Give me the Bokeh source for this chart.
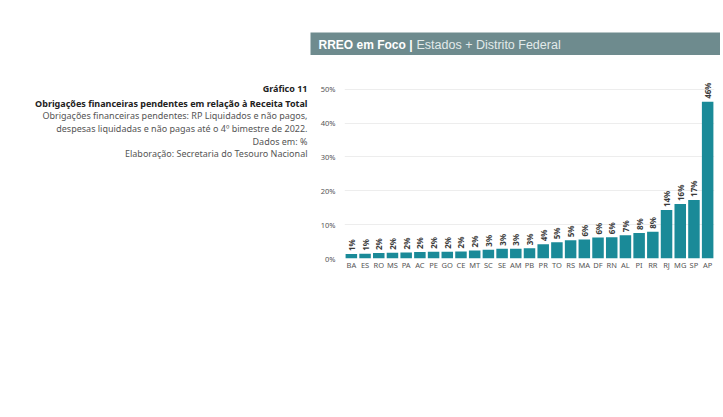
from bokeh.plotting import figure
from bokeh.models import Range1d, FactorRange, FixedTicker, PrintfTickFormatter
from bokeh.layouts import row, column
from bokeh.embed import file_html
from bokeh.resources import INLINE
from bokeh.core.properties import value

states = ["BA", "ES", "RO", "MS", "PA", "AC", "PE", "GO", "CE", "MT", "SC", "SE", "AM", "PB",
          "PR", "TO", "RS", "MA", "DF", "RN", "AL", "PI", "RR", "RJ", "MG", "SP", "AP"]
values = [1.3, 1.4, 1.6, 1.7, 1.8, 1.9, 2.0, 2.0, 2.1, 2.4, 2.6, 2.9, 2.9, 3.0,
          4.2, 4.8, 5.4, 5.6, 6.2, 6.3, 6.9, 7.5, 7.9, 14.3, 16.1, 17.3, 46.3]
labels = ["1%", "1%", "2%", "2%", "2%", "2%", "2%", "2%", "2%", "2%", "3%", "3%", "3%", "3%",
          "4%", "5%", "5%", "6%", "6%", "6%", "7%", "8%", "8%", "14%", "16%", "17%", "46%"]
y_ticks = [0, 10, 20, 30, 40, 50]

header_bold = "RREO em Foco |"
header_rest = "Estados + Distrito Federal"
text_lines = ["Gráfico 11",
              "Obrigações financeiras pendentes em relação à Receita Total",
              "Obrigações financeiras pendentes: RP Liquidados e não pagos,",
              "despesas liquidadas e não pagas até o 4º bimestre de 2022.",
              "Dados em: %",
              "Elaboração: Secretaria do Tesouro Nacional"]

FONT = "Noto Sans"
LW, RW = 310, 410
TOTAL_W = LW + RW
HEAD_H = 55
HEAD = "#6e8b8e"
BT, BB, CH = 27, 150, 353   # chart borders/height: frame spans page y 82..258

# Header strip across the full width (bar only on the right part)
header = figure(width=TOTAL_W, height=HEAD_H, output_backend="svg", toolbar_location=None,
                x_range=Range1d(0, TOTAL_W), y_range=Range1d(HEAD_H, 0),
                min_border=0, outline_line_color=None)
header.axis.visible = False
header.grid.visible = False
header.quad(left=[LW], right=[TOTAL_W], top=[32], bottom=[HEAD_H], fill_color=HEAD, line_color=None)
header.text(x=[LW + 8], y=[44], text=[header_bold], text_baseline="middle",
            text_font=value("Liberation Sans"), text_font_size="12px",
            text_font_style="bold", text_color="#ffffff")
header.text(x=[LW + 106], y=[44], text=[header_rest], text_baseline="middle",
            text_font=value("Liberation Sans"), text_font_size="12.5px",
            text_color="#e2eaea")

# Left text panel (frame aligned with chart frame; y in page pixels)
f_top = HEAD_H + BT
f_bot = HEAD_H + CH - BB
left = figure(width=LW, height=CH, output_backend="svg", toolbar_location=None,
              x_range=Range1d(0, LW), y_range=Range1d(f_bot, f_top),
              min_border_left=0, min_border_right=0, min_border_top=BT, min_border_bottom=BB,
              outline_line_color=None)
left.axis.visible = False
left.grid.visible = False
ys = [87.5, 102.5, 114.5, 127.5, 140.5, 152.5]
for i, (t, y) in enumerate(zip(text_lines, ys)):
    bold = i < 2
    left.text(x=[307], y=[y], text=[t], text_align="right", text_baseline="middle",
              text_font=value(FONT), text_font_size="9px",
              text_font_style="bold" if bold else "normal",
              text_color="#222222" if bold else "#555555")

# Chart
p = figure(width=RW, height=CH, output_backend="svg", toolbar_location=None,
           x_range=FactorRange(factors=states, range_padding=0),
           y_range=Range1d(0, 52),
           min_border_left=34, min_border_right=6, min_border_top=BT, min_border_bottom=BB,
           outline_line_color=None)
p.vbar(x=states, top=values, width=0.84, fill_color="#1a8a98", line_color=None)
p.text(x=states, y=values, text=labels, angle=1.5708, y_offset=-3,
       text_align="left", text_baseline="middle",
       text_font=value(FONT), text_font_size="8px", text_font_style="bold",
       text_color="#3a3a3a")

p.xgrid.visible = False
p.ygrid.grid_line_color = "#ededed"
p.ygrid.ticker = FixedTicker(ticks=y_ticks)
p.yaxis.ticker = FixedTicker(ticks=y_ticks)
p.yaxis.formatter = PrintfTickFormatter(format="%d%%")
for ax in (p.xaxis, p.yaxis):
    ax.axis_line_color = None
    ax.major_tick_line_color = None
    ax.minor_tick_line_color = None
    ax.major_label_text_font = FONT
    ax.major_label_text_color = "#555555"
p.yaxis.major_label_text_font_size = "7.5px"
p.xaxis.major_label_text_font_size = "7.5px"
p.xaxis.major_label_standoff = -5
p.yaxis.major_label_standoff = 3

layout = column(header, row(left, p, spacing=0), spacing=0)
open("out.html", "w").write(file_html(layout, INLINE))
